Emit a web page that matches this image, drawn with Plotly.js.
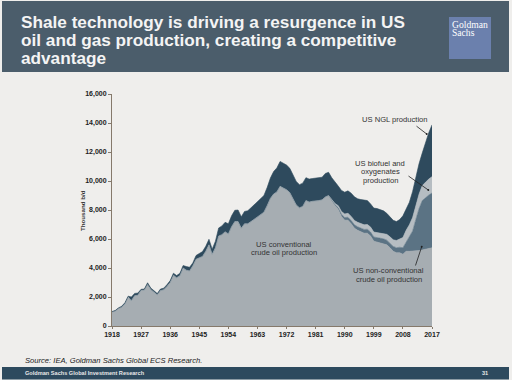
<!DOCTYPE html>
<html><head><meta charset="utf-8">
<script src="https://cdn.plot.ly/plotly-3.0.1.min.js"></script>
<style>html,body{margin:0;padding:0;background:#efeeec;}#chart{width:512px;height:380px;}</style>
</head><body><div id="chart"></div>
<script>
const years = [1918,1919,1920,1921,1922,1923,1924,1925,1926,1927,
1928,1929,1930,1931,1932,1933,1934,1935,1936,1937,
1938,1939,1940,1941,1942,1943,1944,1945,1946,1947,
1948,1949,1950,1951,1952,1953,1954,1955,1956,1957,
1958,1959,1960,1961,1962,1963,1964,1965,1966,1967,
1968,1969,1970,1971,1972,1973,1974,1975,1976,1977,
1978,1979,1980,1981,1982,1983,1984,1985,1986,1987,
1988,1989,1990,1991,1992,1993,1994,1995,1996,1997,
1998,1999,2000,2001,2002,2003,2004,2005,2006,2007,
2008,2009,2010,2011,2012,2013,2014,2015,2016,2017];

const conventional = [975,1040,1210,1300,1530,2000,1750,2090,2120,2470,
2480,2860,2520,2350,2150,2450,2500,2730,3000,3500,
3330,3470,4000,3850,3800,4150,4600,4700,4800,5150,
5600,4950,5400,6200,6300,6500,6350,6850,7200,7200,
6750,7050,7050,7200,7350,7550,7650,7850,8300,8800,
9100,9250,9630,9500,9400,9200,8750,8350,8150,8250,
8650,8550,8600,8600,8650,8700,8900,9000,8650,8300,
8050,7550,7300,7300,7050,6750,6600,6500,6400,6400,
6200,5850,5800,5750,5700,5600,5400,5150,5050,5050,
4950,5150,5150,5150,5150,5200,5250,5300,5350,5390];

const nonConventional = [0,0,0,0,0,0,0,0,0,0,
0,0,0,0,0,0,0,0,0,0,
0,0,0,0,0,0,0,0,0,0,
0,0,0,0,0,0,0,0,0,0,
0,0,0,0,0,0,0,0,0,0,
0,0,0,0,0,0,0,0,0,0,
0,0,0,0,0,0,0,0,30,60,
100,150,180,200,220,230,240,250,260,270,
280,290,300,300,310,320,330,340,350,380,
450,650,950,1400,2200,2900,3400,3550,3680,3780];

const biofuel = [0,0,0,0,0,0,0,0,0,0,
0,0,0,0,0,0,0,0,0,0,
0,0,0,0,0,0,0,0,0,0,
0,0,0,0,0,0,0,0,0,0,
0,0,0,0,0,0,0,0,0,0,
0,0,0,0,0,0,0,0,0,0,
0,0,0,0,0,0,0,0,40,80,
150,200,250,270,290,300,310,320,320,330,
340,340,350,360,380,400,420,450,500,580,
700,800,880,930,950,1000,1040,1080,1100,1130];

const ngl = [20,30,40,60,80,60,250,160,150,60,
70,120,100,100,90,100,110,120,130,140,
150,160,170,250,250,200,260,300,330,350,
380,350,450,560,600,650,700,750,780,800,
780,850,900,950,1000,1050,1100,1150,1250,1400,
1550,1650,1720,1700,1700,1680,1650,1620,1600,1600,
1580,1580,1570,1600,1560,1560,1620,1600,1500,1450,
1350,1450,1500,1550,1600,1630,1620,1650,1700,1650,
1600,1650,1650,1600,1550,1450,1400,1350,1300,1330,
1500,1500,1550,1800,2000,2100,2250,2800,3200,3570];

const xTicks = [1918,1927,1936,1945,1954,1963,1972,1981,1990,1999,2008,2017];

const titleLines = ["Shale technology is driving a resurgence in US",
  "oil and gas production, creating a competitive",
  "advantage"];

// pixel -> paper helpers (plot area: x 112..432, y 94..326)
const L=112,R=432,T=94,B=326;
function px(x){return (x-L)/(R-L);}
function py(y){return (B-y)/(B-T);}

const SANS = "Liberation Sans, Arial, sans-serif";
function series(name, vals, color){
  return {x: years, y: vals, name: name, type:'scatter', mode:'lines',
    stackgroup:'one', fillcolor: color, line:{color: color, width:0.6},
    hoverinfo:'x+y+name'};
}
const data = [
  series('US conventional crude oil production', conventional, '#a6adb2'),
  series('US non-conventional crude oil production', nonConventional, '#5b7384'),
  series('US biofuel and oxygenates production', biofuel, '#b6bdc2'),
  series('US NGL production', ngl, '#2e4a5d')
];

function txt(text, x, y, size, opts){
  return Object.assign({text:text, xref:'paper', yref:'paper', x:px(x), y:py(y),
    showarrow:false, xanchor:'left', yanchor:'middle', borderpad:0,
    font:{family:SANS, size:size, color:'#333'}}, opts||{});
}
function arrow(tx,ty,hx,hy){
  return {text:'', xref:'paper', yref:'paper', x:px(hx), y:py(hy),
    axref:'pixel', ayref:'pixel', ax:tx-hx, ay:ty-hy, showarrow:true,
    arrowhead:6, arrowsize:0.6, arrowwidth:0.8, arrowcolor:'#222', standoff:0, startstandoff:0};
}
const white = '#ffffff';
const TS = 17.2;
const titleFont = {family:SANS, size:TS, color:'#f4f4f4', weight:'bold'};
const serif = 'Liberation Serif, Times New Roman, serif';
const annotations = [
  txt(titleLines[0], 20, 22, TS, {font:titleFont}),
  txt(titleLines[1], 20, 40, TS, {font:titleFont}),
  txt(titleLines[2], 20, 58, TS, {font:titleFont}),
  txt('Goldman', 450.5, 24.8, 9.6, {font:{family:serif, size:9.6, color:white}}),
  txt('Sachs', 450.5, 32, 9.6, {font:{family:serif, size:9.6, color:white}}),
  txt('Thousand b/d', 82, 211, 6.2, {xanchor:'center', textangle:-90, font:{family:SANS, size:6.2, color:'#333', weight:'bold'}}),
  txt('US conventional', 284, 244.5, 7.6, {xanchor:'center'}),
  txt('crude oil production', 284, 252.5, 7.6, {xanchor:'center'}),
  txt('US NGL production', 394.5, 119, 7.6, {xanchor:'center'}),
  txt('US biofuel and', 380, 163, 7.6, {xanchor:'center'}),
  txt('oxygenates', 380, 171.5, 7.6, {xanchor:'center'}),
  txt('production', 380, 180, 7.6, {xanchor:'center'}),
  txt('US non-conventional', 388.5, 270.5, 7.6, {xanchor:'center'}),
  txt('crude oil production', 388.5, 279, 7.6, {xanchor:'center'}),
  arrow(415,125,426.7,134),
  arrow(407,175,428.3,190),
  arrow(415,267,421.7,246.7),
  txt('Source: IEA, Goldman Sachs Global ECS Research.', 24, 360, 7.6, {font:{family:SANS, size:7.6, color:'#222', style:'italic'}}),
  txt('Goldman Sachs Global Investment Research', 24, 373.2, 5.6, {font:{family:SANS, size:5.6, color:'#e8e8e8', weight:'bold'}}),
  txt('31', 485, 373.2, 5.6, {xanchor:'center', font:{family:SANS, size:5.6, color:'#e8e8e8', weight:'bold'}})
];

const shapes = [
  {type:'rect', xref:'paper', yref:'paper', x0:px(2), x1:px(509), y0:py(72), y1:py(1),
    fillcolor:'#4b5d6b', line:{width:0}, layer:'below'},
  {type:'rect', xref:'paper', yref:'paper', x0:px(449), x1:px(491), y0:py(59), y1:py(17),
    fillcolor:'#6b80ad', line:{width:0}, layer:'below'},
  {type:'rect', xref:'paper', yref:'paper', x0:px(2), x1:px(509), y0:py(379.5), y1:py(367),
    fillcolor:'#2d4a5e', line:{width:0}, layer:'below'}
];

const axisColor = '#85796b';
const layout = {
  width:512, height:380,
  margin:{l:L, r:512-R, t:T, b:380-B, pad:0},
  paper_bgcolor:'#efeeec', plot_bgcolor:'rgba(0,0,0,0)',
  showlegend:false,
  xaxis:{range:[1918,2017], tickmode:'array', tickvals:xTicks, ticktext:xTicks.map(String),
    ticks:'outside', ticklen:2, tickcolor:axisColor, showline:true, linecolor:axisColor, linewidth:1,
    showgrid:false, zeroline:false,
    tickfont:{family:SANS, size:7, color:'#222', weight:'bold'}},
  yaxis:{range:[0,16000], tickmode:'linear', tick0:0, dtick:2000, tickformat:',d',
    ticks:'outside', ticklen:3, tickcolor:axisColor, showline:true, linecolor:axisColor, linewidth:1,
    showgrid:false, zeroline:false,
    tickfont:{family:SANS, size:7, color:'#222', weight:'bold'}},
  annotations: annotations,
  shapes: shapes
};
Plotly.newPlot('chart', data, layout, {displayModeBar:false, staticPlot:true});
</script>
</body></html>
